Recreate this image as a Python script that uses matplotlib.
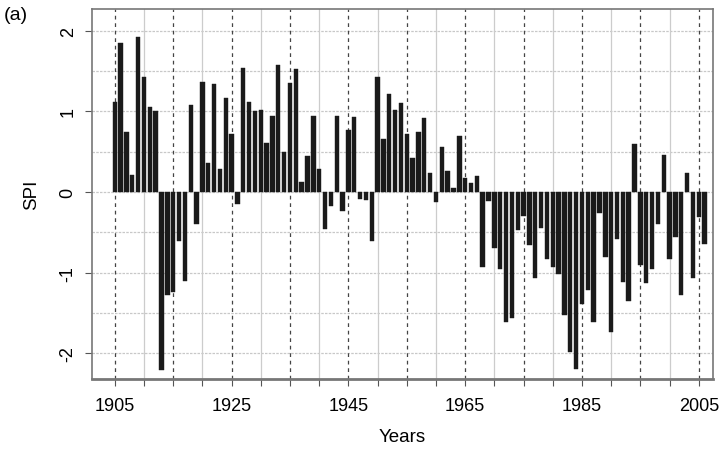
import matplotlib
matplotlib.use("Agg")
from matplotlib import pyplot as plt
import numpy as np

plt.rcParams['font.family'] = ['Liberation Sans', 'DejaVu Sans']

# Años y valores SPI
anios = np.arange(1905, 2007)
spi = [
    1.11, 1.85, 0.74, 0.21, 1.92, 1.42, 1.06, 1.01, -2.21, -1.28,
    -1.24, -0.61, -1.10, 1.08, -0.40, 1.37, 0.36, 1.34, 0.28, 1.16,
    0.72, -0.15, 1.54, 1.12, 1.01, 1.02, 0.61, 0.94, 1.58, 0.50,
    1.35, 1.52, 0.12, 0.45, 0.94, 0.28, -0.46, -0.17, 0.94, -0.24,
    0.77, 0.93, -0.09, -0.10, -0.61, 1.42, 0.66, 1.21, 1.02, 1.10,
    0.72, 0.42, 0.74, 0.92, 0.24, -0.12, 0.56, 0.26, 0.05, 0.69,
    0.17, 0.11, 0.20, -0.93, -0.11, -0.69, -0.95, -1.61, -1.56, -0.47,
    -0.30, -0.66, -1.07, -0.44, -0.83, -0.93, -1.02, -1.53, -1.98, -2.20,
    -1.39, -1.22, -1.61, -0.26, -0.80, -1.73, -0.58, -1.12, -1.35, 0.59,
    -0.91, -1.13, -0.95, -0.40, 0.46, -0.83, -0.56, -1.28, 0.24, -1.06,
    -0.31, -0.64,
]
etiquetas_x = [1905, 1925, 1945, 1965, 1985, 2005]
ticks_y = [-2, -1, 0, 1, 2]

fig = plt.figure(figsize=(7.21, 4.52), dpi=100)
ax = fig.add_axes([0.1276, 0.159, 0.861, 0.819])

# Rejilla: líneas grises finas y discontinuas negras cada 10 años
for y in np.arange(-2, 2.01, 0.5):
    ax.axhline(y, color='#c8c8c8', lw=0.9, ls=(0, (2, 1)), zorder=0)
for x in range(1910, 2007, 10):
    ax.axvline(x, color='#cccccc', lw=0.9, zorder=0)
for x in range(1905, 2007, 10):
    ax.axvline(x, color='#444444', lw=0.9, ls=(0, (3, 3)), zorder=0)

ax.bar(anios, spi, width=0.75, color='#1a1a1a', edgecolor='#1a1a1a', lw=0.3, zorder=2)

ax.set_xlim(1901.1, 2007.4)
ax.set_ylim(-2.32, 2.27)
ax.set_xticks(range(1905, 2007, 5))
ax.set_xticklabels([str(t) if t in etiquetas_x else '' for t in range(1905, 2007, 5)])
ax.set_yticks(ticks_y)
ax.set_yticklabels([str(t) for t in ticks_y], rotation=90, va='center')
ax.tick_params(labelsize=13, color='#555555', length=5)
ax.tick_params(axis='x', pad=8)
ax.tick_params(axis='y', pad=6)

for s in ax.spines.values():
    s.set_color('#777777')
    s.set_linewidth(1.2)
ax.spines['bottom'].set_linewidth(2)

ax.set_xlabel('Years', fontsize=13.5, labelpad=10)
ax.set_ylabel('SPI', fontsize=13.5, labelpad=14)
fig.text(0.005, 0.955, '(a)', fontsize=14)

plt.savefig('out.png', dpi=100)
